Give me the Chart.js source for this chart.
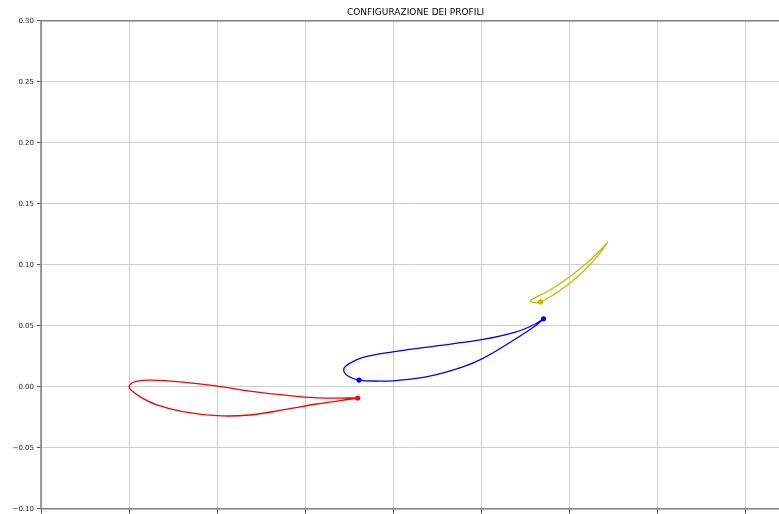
<!DOCTYPE html>
<html>
<head>
<meta charset="utf-8">
<script src="https://cdn.jsdelivr.net/npm/chart.js@4/dist/chart.umd.min.js"></script>
<style>
  html, body { margin: 0; padding: 0; overflow: hidden; background: #fff; }
  #wrap { width: 790px; height: 516px; }
</style>
</head>
<body>
<div id="wrap"><canvas id="c" width="790" height="516"></canvas></div>
<script>
// Profile outlines: trailing edge -> upper surface -> leading edge -> lower surface -> trailing edge
const profiloRossoX = [0.2594, 0.2537, 0.2129, 0.1744, 0.1370, 0.0998, 0.0610, 0.0236, 0.0080, 0.0020, 0.0000,
                       0.0012, 0.0122, 0.0315, 0.0610, 0.0995, 0.1370, 0.1744, 0.2129, 0.2583, 0.2594];
const profiloRossoY = [-0.0092, -0.0092, -0.0090, -0.0067, -0.0035, 0.0006, 0.0039, 0.0055, 0.0045, 0.0025, 0.0000,
                       -0.0020, -0.0081, -0.0149, -0.0204, -0.0237, -0.0231, -0.0190, -0.0141, -0.0094, -0.0092];

const profiloBluX = [0.4703, 0.4620, 0.4393, 0.4015, 0.3410, 0.2994, 0.2654, 0.2503, 0.2435,
                     0.2484, 0.2609, 0.2844, 0.2994, 0.3410, 0.3788, 0.4015, 0.4393, 0.4620, 0.4703];
const profiloBluY = [0.0557, 0.0519, 0.0450, 0.0388, 0.0328, 0.0287, 0.0241, 0.0192, 0.0143,
                     0.0088, 0.0055, 0.0047, 0.0049, 0.0088, 0.0164, 0.0233, 0.0396, 0.0505, 0.0557];

const profiloGialloX = [0.5432, 0.5338, 0.5187, 0.4998, 0.4771, 0.4601, 0.4552,
                        0.4582, 0.4669, 0.4808, 0.4998, 0.5187, 0.5338, 0.5432];
const profiloGialloY = [0.1187, 0.1113, 0.1010, 0.0900, 0.0791, 0.0728, 0.0704,
                        0.0693, 0.0696, 0.0751, 0.0846, 0.0969, 0.1092, 0.1187];

// Reference points marked on each profile
const puntiRossiX = [0.2594];
const puntiRossiY = [-0.0092];
const puntiBluX = [0.2609, 0.4703];
const puntiBluY = [0.0055, 0.0557];
const puntiGialliX = [0.4669];
const puntiGialliY = [0.0696];

// Axis ticks
const tickY = [-0.10, -0.05, 0.00, 0.05, 0.10, 0.15, 0.20, 0.25, 0.30];
const tickX = [-0.1, 0.0, 0.1, 0.2, 0.3, 0.4, 0.5, 0.6, 0.7];

const zip = (xs, ys) => xs.map((x, i) => ({ x: x, y: ys[i] }));

const ROSSO = '#ff0000', BLU = '#0000ff', GIALLO = '#bfbf00';

function profilo(xs, ys, col) {
  return { data: zip(xs, ys), showLine: true, borderColor: col, backgroundColor: col,
           borderWidth: 1.3, pointRadius: 0, pointHoverRadius: 0, tension: 0.4, fill: false };
}
function punti(xs, ys, col) {
  return { data: zip(xs, ys), showLine: false, borderColor: col, backgroundColor: col,
           pointRadius: 2.6, pointBorderWidth: 0 };
}

// Frame around the plotting area
const cornice = {
  id: 'cornice',
  afterDraw(chart) {
    const a = chart.chartArea, ctx = chart.ctx;
    ctx.save();
    ctx.strokeStyle = '#7f7f7f';
    ctx.lineWidth = 1.5;
    ctx.strokeRect(a.left, a.top, a.right - a.left, a.bottom - a.top);
    ctx.restore();
  }
};

new Chart(document.getElementById('c'), {
  type: 'scatter',
  data: {
    datasets: [
      profilo(profiloRossoX, profiloRossoY, ROSSO),
      profilo(profiloBluX, profiloBluY, BLU),
      profilo(profiloGialloX, profiloGialloY, GIALLO),
      punti(puntiRossiX, puntiRossiY, ROSSO),
      punti(puntiBluX, puntiBluY, BLU),
      punti(puntiGialliX, puntiGialliY, GIALLO)
    ]
  },
  options: {
    responsive: false,
    animation: false,
    events: [],
    layout: { padding: 0, autoPadding: false },
    plugins: {
      legend: { display: false },
      tooltip: { enabled: false },
      title: {
        display: true,
        text: 'CONFIGURAZIONE DEI PROFILI',
        fullSize: false,
        color: '#000',
        font: { family: 'DejaVu Sans', size: 9, weight: 'normal' },
        padding: { top: 7, bottom: 3 }
      }
    },
    scales: {
      x: {
        type: 'linear',
        min: -0.1,
        max: 0.75,
        afterBuildTicks(scale) { scale.ticks = tickX.map(v => ({ value: v })); },
        afterFit(scale) { scale.height = 5; },
        border: { display: false },
        grid: { color: '#cfcfcf', lineWidth: 1, tickLength: 5, tickColor: '#555', drawTicks: true },
        ticks: { display: false, padding: 0 }
      },
      y: {
        type: 'linear',
        min: -0.10,
        max: 0.30,
        afterBuildTicks(scale) { scale.ticks = tickY.map(v => ({ value: v })); },
        afterFit(scale) { scale.width = 41; },
        border: { display: false },
        grid: { color: '#cfcfcf', lineWidth: 1, tickLength: 4, tickColor: '#555' },
        ticks: {
          color: '#222',
          padding: 3,
          font: { family: 'DejaVu Sans', size: 7 },
          callback: v => (v < 0 ? '\u2212' : '') + Math.abs(v).toFixed(2)
        }
      }
    }
  },
  plugins: [cornice]
});
</script>
</body>
</html>
